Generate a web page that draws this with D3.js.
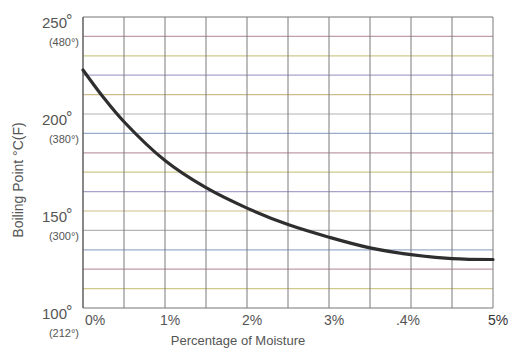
<!DOCTYPE html>
<html>
<head>
<meta charset="utf-8">
<script src="https://cdn.jsdelivr.net/npm/d3@7"></script>
<style>
body { margin: 0; background: #fff; }
text { font-family: "Liberation Sans", Arial, sans-serif; }
</style>
</head>
<body>
<script>
var width = 515;
var height = 354;

// data
var moisture = [0, 0.25, 0.5, 1, 1.5, 2, 2.5, 3, 3.5, 4, 4.5, 5];
var boilingC = [222.7, 208.5, 196, 176, 162, 151.5, 143, 136.5, 131, 127.5, 125.5, 125];

var xTicks = [0, 1, 2, 3, 4, 5];
var xTickLabels = ["0%", "1%", "2%", "3%", ".4%", "5%"];
var yTicks = [250, 200, 150, 100];
var yTickLabels = ["250", "200", "150", "100"];
var yTickLabelsF = ["(480°)", "(380°)", "(300°)", "(212°)"];
var xGrid = d3.range(0, 5.01, 0.5);
var yGrid = d3.range(100, 250.1, 10);

var textcolor = "#555";
var gridcolors = ["#a9a3cc", "#cfc98a", "#c09cac", "#9aaccc", "#b4b4b4", "#d0bd8c"];

var x = d3.scaleLinear().domain([0, 5]).range([83, 493]);
var y = d3.scaleLinear().domain([100, 250]).range([308, 17]);

var svg = d3.select("body")
	.append("svg")
	.attr("width", width)
	.attr("height", height)

// horizontal grid, faintly tinted like the scan
svg.selectAll(".hgrid")
	.data(yGrid)
	.enter().append("line")
	.attr("class", "hgrid")
	.attr("x1", x(0))
	.attr("x2", x(5))
	.attr("y1", d => y(d))
	.attr("y2", d => y(d))
	.style("stroke", (d, i) => (i == 0 || i == yGrid.length - 1) ? "#777" : gridcolors[i % gridcolors.length])
	.style("stroke-width", 1.2)

svg.selectAll(".vgrid")
	.data(xGrid)
	.enter().append("line")
	.attr("class", "vgrid")
	.attr("x1", d => x(d))
	.attr("x2", d => x(d))
	.attr("y1", y(250))
	.attr("y2", y(100))
	.style("stroke", (d, i) => (i == 0) ? "#555" : "#7a7a7a")
	.style("stroke-width", (d, i) => (i == 0) ? 1.4 : 1)

// the curve
var line = d3.line()
	.x((d, i) => x(moisture[i]))
	.y(d => y(d))
	.curve(d3.curveCatmullRom.alpha(0.5))

svg.append("path")
	.datum(boilingC)
	.attr("d", line)
	.style("fill", "none")
	.style("stroke", "#2e2e2e")
	.style("stroke-width", 3.2)
	.style("stroke-linecap", "round")

// x tick labels
svg.selectAll(".xlab")
	.data(xTicks)
	.enter().append("text")
	.attr("class", "xlab")
	.attr("x", (d, i) => i == 0 ? x(d) + 2 : x(d) + (i == 4 ? -3 : 5))
	.attr("y", 325)
	.attr("text-anchor", (d, i) => i == 0 ? "start" : "middle")
	.attr("font-size", "14px")
	.attr("fill", (d, i) => i == 5 ? "#333" : textcolor)
	.text((d, i) => xTickLabels[i])

// y tick labels, celsius
svg.selectAll(".ylab")
	.data(yTicks)
	.enter().append("text")
	.attr("class", "ylab")
	.attr("x", 67)
	.attr("y", d => y(d) + 11)
	.attr("text-anchor", "end")
	.attr("font-size", "15px")
	.attr("fill", textcolor)
	.text((d, i) => yTickLabels[i])
svg.selectAll(".ydeg")
	.data(yTicks)
	.enter().append("text")
	.attr("class", "ydeg")
	.attr("x", 66)
	.attr("y", d => y(d) + 9)
	.attr("font-size", "16px")
	.attr("fill", textcolor)
	.text("°")

// y tick labels, fahrenheit
svg.selectAll(".ylabf")
	.data(yTicks)
	.enter().append("text")
	.attr("class", "ylabf")
	.attr("x", 79)
	.attr("y", d => y(d) + 29)
	.attr("text-anchor", "end")
	.attr("font-size", "11px")
	.attr("fill", textcolor)
	.text((d, i) => yTickLabelsF[i])

// axis titles
svg.append("text")
	.attr("x", 238)
	.attr("y", 345)
	.attr("text-anchor", "middle")
	.attr("font-size", "13px")
	.attr("fill", textcolor)
	.text("Percentage of Moisture")

svg.append("text")
	.attr("transform", "translate(23,180) rotate(-90)")
	.attr("text-anchor", "middle")
	.attr("font-size", "14px")
	.attr("fill", textcolor)
	.text("Boiling Point °C(F)")
</script>
</body>
</html>
